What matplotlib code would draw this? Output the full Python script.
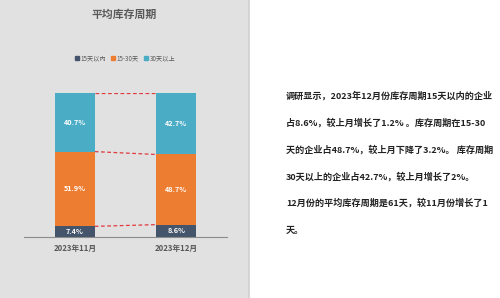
import matplotlib
matplotlib.use("Agg")
import matplotlib.pyplot as plt
import numpy as np
from matplotlib.patches import Rectangle

plt.rcParams['font.family'] = ['Noto Sans CJK SC', 'DejaVu Sans']

# data
months = ["2023年11月", "2023年12月"]
series_names = ["15天以内", "15-30天", "30天以上"]
under_15 = [7.4, 8.6]
d15_30 = [51.9, 48.7]
over_30 = [40.7, 42.7]
series_colors = ["#44546a", "#ed7d31", "#4bacc6"]

title = "平均库存周期"
summary_lines = [
    "调研显示，2023年12月份库存周期15天以内的企业",
    "占8.6%，较上月增长了1.2% 。库存周期在15-30",
    "天的企业占48.7%，较上月下降了3.2%。 库存周期",
    "30天以上的企业占42.7%，较上月增长了2%。",
    "12月份的平均库存周期是61天，较11月份增长了1",
    "天。",
]

W, H = 500, 298
fig = plt.figure(figsize=(W / 100, H / 100), dpi=100)
fig.patch.set_facecolor("white")

# grey chart panel on the left
fig.add_artist(Rectangle((0, 0), 249 / W, 1, transform=fig.transFigure,
                         facecolor="#e1e1e1", edgecolor="none", zorder=0))
fig.add_artist(plt.Line2D([249 / W, 249 / W], [0, 1], transform=fig.transFigure,
                          color="#cfcfcf", lw=1.2, zorder=1))

ax = fig.add_axes([24 / W, (H - 237) / H, 203 / W, 144 / H])
ax.set_facecolor("none")
x = np.arange(len(months))
width = 0.394

stacks = [under_15, d15_30, over_30]
bottom = np.zeros(len(months))
tops = []
for vals, col in zip(stacks, series_colors):
    vals = np.array(vals)
    ax.bar(x, vals, width, bottom=bottom, color=col, zorder=2)
    for xi, b, v in zip(x, bottom, vals):
        ax.text(xi, b + v / 2, f"{v:.1f}%", ha="center", va="center",
                color="white", fontsize=5.2, fontweight="bold", zorder=3)
    bottom = bottom + vals
    tops.append(bottom.copy())

# dashed connectors between bars
for t in tops:
    ax.plot([x[0] + width / 2, x[1] - width / 2], [t[0], t[1]],
            color="#e0393e", lw=0.9, ls=(0, (3, 2)), zorder=1)

ax.set_xlim(-0.5, 1.5)
ax.set_ylim(0, 100)
for s in ["top", "right", "left"]:
    ax.spines[s].set_visible(False)
ax.spines["bottom"].set_color("#8c8c8c")
ax.spines["bottom"].set_linewidth(0.8)
ax.set_yticks([])
ax.set_xticks(x)
ax.set_xticklabels(months, fontsize=5.6, color="#595959", fontweight="bold")
ax.tick_params(axis="x", length=0, pad=5)

fig.text(124 / W, 1 - 15 / H, title, ha="center", va="center",
         fontsize=7.8, fontweight="bold", color="#595959")

# legend
handles = [Rectangle((0, 0), 1, 1, color=c) for c in series_colors]
fig.legend(handles, series_names, loc="center", bbox_to_anchor=(125 / W, 1 - 58 / H),
           ncol=3, frameon=False, fontsize=4.5, handlelength=0.6, handleheight=0.6,
           handletextpad=0.3, columnspacing=0.8, labelcolor="#595959")

# summary text on the right
line_y = [96, 123, 150, 177, 203, 230]
for line, y in zip(summary_lines, line_y):
    fig.text(286 / W, 1 - y / H, line, ha="left", va="center",
             fontsize=6.55, fontweight="bold", color="#222222")

fig.savefig("out.png", dpi=100, facecolor=fig.get_facecolor())
